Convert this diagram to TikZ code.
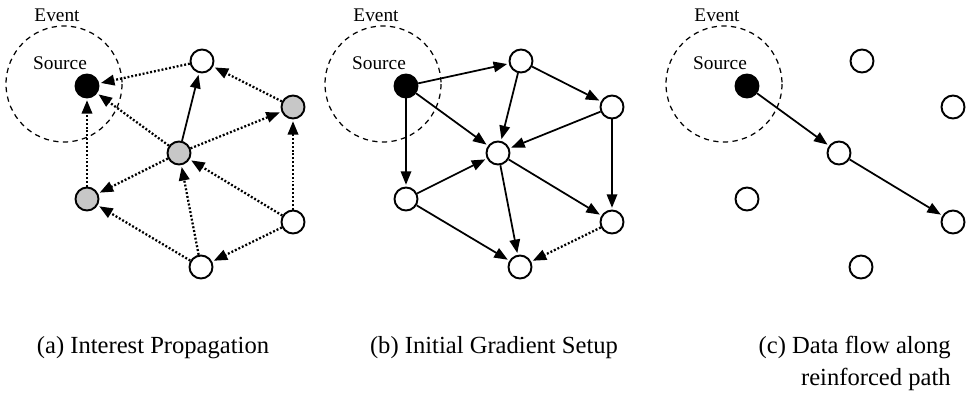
\documentclass[tikz,border=0pt]{standalone}
\usepackage{fontspec}
\setmainfont{Liberation Serif}
\usetikzlibrary{arrows.meta}

\colorlet{relay}{black!22}

\tikzset{
  sensor/.style={circle,draw,line width=1.1pt,minimum size=0.46cm,inner sep=0pt},
  sink/.style={sensor,fill=black},
  region/.style={dashed,line width=0.7pt,dash pattern=on 3pt off 2.5pt},
  grad/.style={line width=1pt,-{Triangle[length=0.27cm,width=0.21cm]},shorten >=1pt},
  prop/.style={grad,line width=1.3pt,dash pattern=on 1.1pt off 1.1pt},
  tag/.style={font=\fontsize{11}{13}\selectfont,inner sep=0pt},
  caption/.style={font=\fontsize{14}{16}\selectfont,inner sep=0pt}
}

\begin{document}
\begin{tikzpicture}[x=0.02cm,y=-0.02cm]
  \useasboundingbox (0,0) rectangle (966,393);
  % three snapshots of the same field
  \foreach \p/\dx/\shade in {a/0/relay,b/319/white,c/660/white} {
    \draw[region] (\dx+64,84) circle (58);
    \node[tag] (\p-event) at (\dx+57,15) {Event};
    \node[tag] (\p-label) at (\dx+60,63) {Source};
    \node[sink] (\p-src) at (\dx+87,86) {};
    \node[sensor,fill=white] (\p-top) at (\dx+202,61) {};
    \node[sensor,fill=\shade] (\p-rgt) at (\dx+293,107) {};
    \node[sensor,fill=\shade] (\p-mid) at (\dx+179,153) {};
    \node[sensor,fill=\shade] (\p-lft) at (\dx+87,199) {};
    \node[sensor,fill=white] (\p-brt) at (\dx+293,222) {};
    \node[sensor,fill=white] (\p-bot) at (\dx+201,267) {};
  }
  % (a) interests flooding out from the sink
  \draw[prop] (a-top) -- (a-src);
  \draw[prop] (a-rgt) -- (a-top);
  \draw[grad] (a-mid) -- (a-top);
  \draw[prop] (a-mid) -- (a-src);
  \draw[prop] (a-mid) -- (a-rgt);
  \draw[prop] (a-mid) -- (a-lft);
  \draw[prop] (a-lft) -- (a-src);
  \draw[prop] (a-brt) -- (a-rgt);
  \draw[prop] (a-brt) -- (a-mid);
  \draw[prop] (a-bot) -- (a-mid);
  \draw[prop] (a-bot) -- (a-lft);
  \draw[prop] (a-brt) -- (a-bot);
  % (b) gradients
  \draw[grad] (b-src) -- (b-top);
  \draw[grad] (b-src) -- (b-mid);
  \draw[grad] (b-src) -- (b-lft);
  \draw[grad] (b-top) -- (b-mid);
  \draw[grad] (b-top) -- (b-rgt);
  \draw[grad] (b-rgt) -- (b-mid);
  \draw[grad] (b-rgt) -- (b-brt);
  \draw[grad] (b-lft) -- (b-mid);
  \draw[grad] (b-lft) -- (b-bot);
  \draw[grad] (b-mid) -- (b-brt);
  \draw[grad] (b-mid) -- (b-bot);
  \draw[prop] (b-brt) -- (b-bot);
  % (c) reinforced path
  \draw[grad] (c-src) -- (c-mid);
  \draw[grad] (c-mid) -- (c-brt);
  \node[caption] (cap-a) at (153,348) {(a) Interest Propagation};
  \node[caption] (cap-b) at (494,348) {(b) Initial Gradient Setup};
  \node[caption,align=right,anchor=north east] (cap-c) at (951,336) {(c) Data flow along\\[2pt]reinforced path};
\end{tikzpicture}
\end{document}
